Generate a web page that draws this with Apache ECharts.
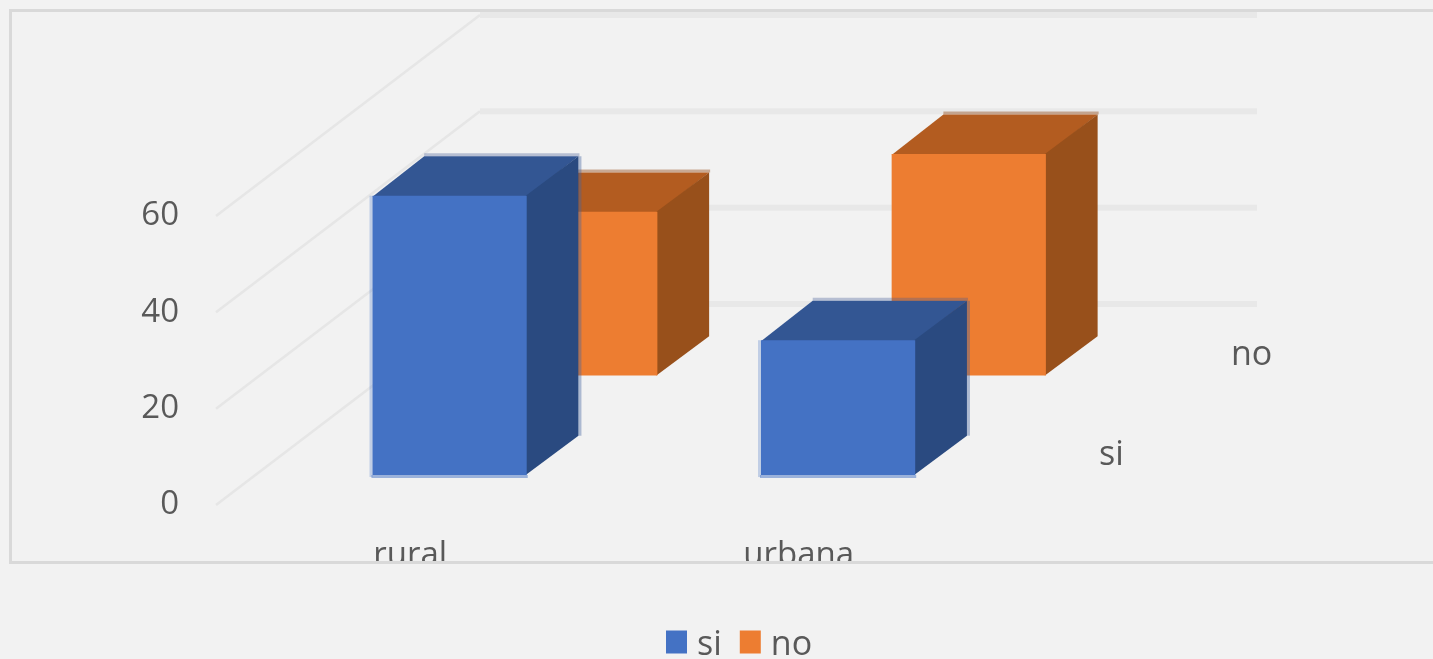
<!DOCTYPE html>
<html><head><meta charset="utf-8">
<style>html,body{margin:0;padding:0;background:#f2f2f2}#c{width:1433px;height:659px}</style>
<script src="https://cdn.jsdelivr.net/npm/echarts@6/dist/echarts.min.js"></script>
</head><body><div id="c"></div>
<script>
const categories = ['rural', 'urbana'];
const depthCategories = ['si', 'no'];
const siValues = [58, 28];
const noValues = [34, 46];
const valueTicks = [0, 20, 40, 60];

const FONT = '"Open Sans", "Noto Sans", sans-serif';
const TEXT = '#595959';
const FLOOR = [264, -201];       // floor depth in pixels, front edge to back wall
const BAR_WIDTH = 0.397;         // share of a category band
const BAR_DEPTH = 0.196;         // share of the floor depth
const rows = {si: 0.149, no: 0.644};
const CLEAR = 'rgba(0,0,0,0)';
const shades = {
  si: {front: '#4472c4', side: '#2a4a80', top: '#335693',
       backEdge: 'rgba(68,90,150,0.34)', rightEdge: 'rgba(68,100,160,0.4)',
       leftEdge: 'rgba(68,114,196,0.28)', lowEdge: 'rgba(68,114,196,0.5)'},
  no: {front: '#ed7d31', side: '#98501b', top: '#b35c20',
       backEdge: 'rgba(150,80,30,0.45)', rightEdge: CLEAR, leftEdge: CLEAR, lowEdge: CLEAR}
};

function barRenderer(name) {
  return function (params, api) {
    const c = shades[name];
    const band = api.size([1, 0])[0];
    const w = band * BAR_WIDTH;
    const base = api.coord([api.value(0), 0]);
    const head = api.coord([api.value(0), api.value(1)]);
    const ox = FLOOR[0] * rows[name], oy = FLOOR[1] * rows[name];
    const dx = FLOOR[0] * BAR_DEPTH, dy = FLOOR[1] * BAR_DEPTH;
    const l = base[0] - w / 2 + ox, r = l + w;
    const b = base[1] + oy, t = head[1] + oy;
    const poly = (pts, fill) => ({type: 'polygon', shape: {points: pts}, style: {fill: fill}});
    const seg = (x1, y1, x2, y2, stroke) => ({type: 'line', shape: {x1, y1, x2, y2}, style: {stroke, lineWidth: 3}});
    return {type: 'group', children: [
      seg(l + dx, t + dy - 1.5, r + dx + 1, t + dy - 1.5, c.backEdge),
      seg(r + dx + 1.5, t + dy, r + dx + 1.5, b + dy, c.rightEdge),
      seg(l - 1.5, t, l - 1.5, b + 2, c.leftEdge),
      seg(l - 1, b + 1.5, r + 1, b + 1.5, c.lowEdge),
      poly([[l, t + 1], [r, t + 1], [r + dx, t + dy], [l + dx, t + dy]], c.top),
      poly([[r - 1, t], [r + dx, t + dy], [r + dx, b + dy], [r - 1, b]], c.side),
      poly([[l, t], [r, t], [r, b], [l, b]], c.front)
    ]};
  };
}

function wallRenderer(params, api) {
  const g = params.coordSys;
  const y = api.coord([0, api.value(0)])[1];
  const backX = g.x + FLOOR[0], backY = y + FLOOR[1];
  return {type: 'group', children: [
    {type: 'line', shape: {x1: g.x, y1: y, x2: backX, y2: backY},
     style: {stroke: '#e6e6e6', lineWidth: 2.5}},
    {type: 'line', shape: {x1: backX, y1: backY, x2: backX + g.width, y2: backY},
     style: {stroke: '#e8e8e8', lineWidth: 6}}
  ]};
}

function depthLabelRenderer(params, api) {
  const g = params.coordSys;
  const y = api.coord([0, 0])[1];
  const f = (api.value(0) + 0.5) / depthCategories.length;
  return {type: 'text', x: g.x + g.width + FLOOR[0] * f + 40, y: y + FLOOR[1] * f + 1,
    style: {text: depthCategories[params.dataIndex], fill: TEXT, fontSize: 34, fontFamily: FONT,
            align: 'left', verticalAlign: 'middle'}};
}

const chart = echarts.init(document.getElementById('c'), null, {renderer: 'canvas'});
chart.setOption({
  animation: false,
  backgroundColor: '#f2f2f2',
  grid: {left: 216, top: 216, width: 777, height: 289},
  xAxis: {
    type: 'category', data: categories,
    axisLine: {show: false}, axisTick: {show: false}, splitLine: {show: false},
    axisLabel: {margin: 34, fontSize: 33, fontFamily: FONT, color: TEXT}
  },
  yAxis: {
    type: 'value', min: 0, max: 60, interval: 20,
    axisLine: {show: false}, axisTick: {show: false}, splitLine: {show: false},
    axisLabel: {margin: 37, fontSize: 33, fontFamily: FONT, color: TEXT, padding: [0, 0, 2, 0]}
  },
  legend: {
    data: ['si', 'no'], left: 666, top: 628, orient: 'horizontal',
    itemWidth: 21, itemHeight: 29, itemGap: 18, padding: 0,
    icon: 'path://M0 0L21 0L21 23L0 23Z M0 29L21 29',
    textStyle: {fontSize: 34, fontFamily: FONT, color: TEXT, padding: [0, 0, 0, 5]}
  },
  series: [
    {type: 'custom', name: 'walls', z: 1, silent: true, clip: false, renderItem: wallRenderer,
     data: valueTicks.map(v => [v]), encode: {x: -1, y: -1}, coordinateSystem: 'cartesian2d'},
    {type: 'custom', name: 'depth', z: 1, silent: true, clip: false, renderItem: depthLabelRenderer,
     data: depthCategories.map((_, i) => [i]), encode: {x: -1, y: -1}},
    {type: 'custom', name: 'no', z: 2, clip: false, renderItem: barRenderer('no'),
     itemStyle: {color: shades.no.front},
     data: noValues.map((v, i) => [i, v]), encode: {x: 0, y: 1}},
    {type: 'custom', name: 'si', z: 3, clip: false, renderItem: barRenderer('si'),
     itemStyle: {color: shades.si.front},
     data: siValues.map((v, i) => [i, v]), encode: {x: 0, y: 1}}
  ],
  graphic: [
    {type: 'rect', z: 100, silent: true, shape: {x: 0, y: 561, width: 1433, height: 40},
     style: {fill: '#f2f2f2'}},
    {type: 'rect', z: 101, silent: true, shape: {x: 10.5, y: 10.5, width: 1500, height: 552},
     style: {fill: 'none', stroke: '#d9d9d9', lineWidth: 3}}
  ]
});
</script></body></html>
